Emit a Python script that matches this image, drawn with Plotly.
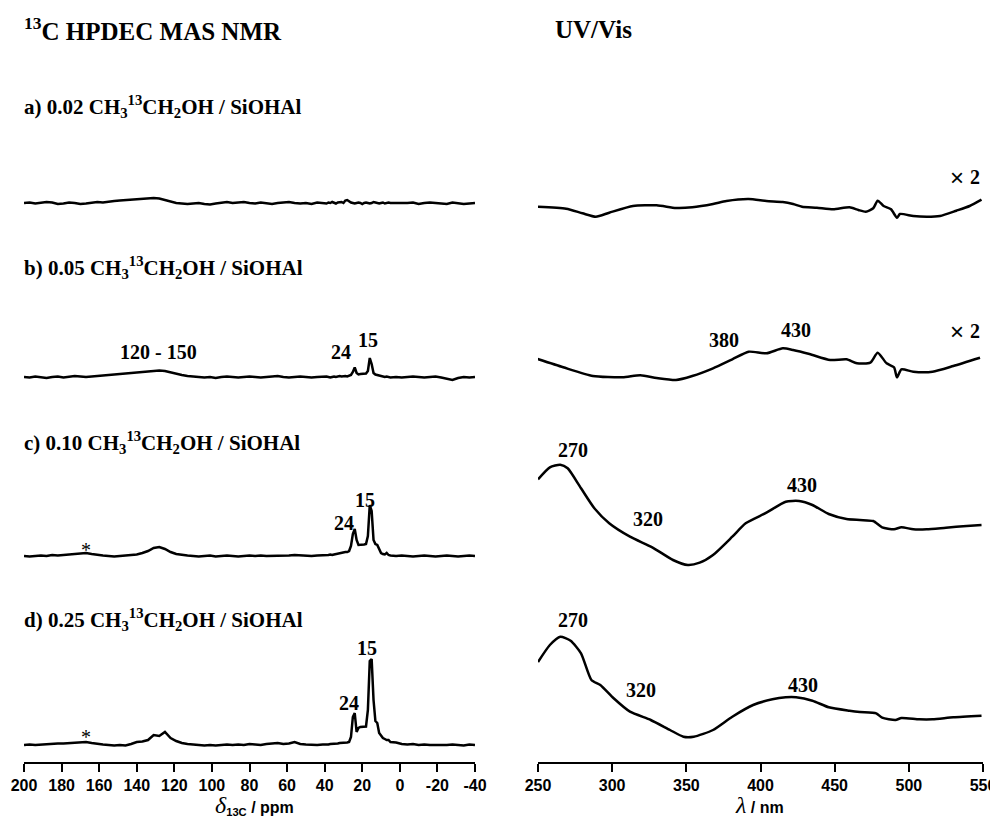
import plotly.graph_objects as go

# ---------------- DATA ----------------
# 13C HPDEC MAS NMR chemical shift grid (ppm)
ppm_hi = list(range(200, 40, -3))   # 200 ... 41
ppm_mid = list(range(40, 4, -1))    # 40 ... 5
ppm_lo = list(range(2, -41, -3))    # 2 ... -40
nmr_ppm = ppm_hi + ppm_mid + ppm_lo

# intensities (arbitrary units) for the four loadings
nmr_a = ([0, 0.5, -0.5, 0, 1, 0.5, -1, -0.5, 0.5, 0,
          -1, -0.5, 0, 1, 0.5, 1.5, 2, 2.5, 3, 3,
          3.5, 4, 4.5, 5, 4.5, 3, 1, 0, -0.5, -1,
          -0.5, 0, -1, -1.5, -0.5, 0, 1, 0, 0.5, 1,
          0, -0.5, 0.5, 0, -1, 0, 0.5, 1, 0, -0.5,
          0, -1, 0.5, 0]
         + [0, -0.5, 0.5, 0, 1, 0, -0.5, 0.5, 1, 1,
            0, 2.5, 3, 1.5, 0.5, 0, -0.5, 0, 0.5, 0,
            -1, 0, 0.5, 0, -0.5, 0, 1, 0.5, 0, -0.5,
            0, 0.5, -0.5, 0, 0.5, 0]
         + [0, -0.5, 0, 0.5, -1, 0, 0.5, 0, -0.5, -1, 0.5, 0, -1, -0.5, 0])

nmr_b = ([0, -0.5, 0.5, 0, -1, 0, 0.5, -0.5, 0, 1,
          0.5, 0, 0.5, 1, 1.5, 2, 2, 2.5, 3, 3.5,
          4, 4.5, 5, 6, 6.5, 6, 4.5, 3, 2, 1,
          0.5, 0, -0.5, 0, -1, 0, 0.5, 0, -0.5, 0,
          0.5, 0, -0.5, 0, 0.5, 1, 0, -0.5, 0, 0.5,
          0, -0.5, 0, 0.5]
         + [0, 0.5, 0, -0.5, 0, 0.5, 0, 0.5, 1, 0.5,
            1, 1, 0.5, 1, 2, 5, 9.5, 4, 2.5, 3,
            3, 3, 3.5, 6, 19, 13, 4, 2.5, 2, 1,
            1, 0.5, 0, 0.5, 0, -0.5]
         + [0, -0.5, 0, 0.5, 0, -0.5, 0, 0.5, -0.5, -2, -3, -1, 0, -0.5, 0])

nmr_c = ([0, -0.5, 0, 0.5, 0, 1, 0.5, 1, 1.5, 2,
          2.5, 3, 2, 1, 0.5, 0, -0.5, 0, 0.5, 1,
          1.5, 3, 5, 8, 9, 7, 4, 2, 1, 0.5,
          0, -0.5, 0, 0.5, -0.5, 0, 0.5, 0, -0.5, 0,
          0.5, 0, 0.5, 0, 0, 0.5, 0, 0.5, 1, 0.5,
          0, 0, 0.5, 0.5]
         + [0.5, 1, 1, 1.5, 1, 1.5, 2, 2, 2.5, 3,
            3.5, 4, 4, 5, 10, 22, 27, 16, 11, 11,
            11, 11.5, 12, 20, 51, 45, 16, 12, 11, 6,
            3, 2, 1.5, 3, 1, 0.5]
         + [0, 0.5, 0, -0.5, 0, 0.5, 0, -0.5, 0, 0.5, 0, -0.5, 0, 0.5, 0])

nmr_d = ([0, 0.5, 0, 0.5, 1, 1, 1.5, 1.5, 2, 2,
          2.5, 3, 2, 1, 0.5, 0, -0.5, 0, -0.5, 1,
          3, 3.5, 5, 10, 9, 13, 7, 4, 2, 1,
          0.5, 0, -0.5, 0, -0.5, 0, 0.5, 0, 0.5, 0,
          1, 0.5, 0, 1, 1.5, 2, 1, 1.5, 3, 1,
          0.5, 0, 0, 0.5]
         + [0.5, 0, 0.5, 1, 1, 1.5, 1, 1.5, 2, 2,
            2.5, 2, 2.5, 3, 8, 28, 32, 13, 17, 18,
            18, 18, 18.5, 35, 84, 86, 45, 24, 22, 12,
            9, 7, 6, 5, 5, 3]
         + [2.5, 1, 0.5, 1, 0, 0.5, 0, 0, -0.5, 0, 0.5, 0, -0.5, 0.5, 0])

# UV/Vis spectra (wavelength nm, arbitrary units)
uv_a_wl = [250, 269, 280, 289, 298, 314, 330, 343, 354, 368, 377, 392, 404, 415,
           422, 428, 438, 449, 460, 466, 471, 476, 479, 483, 488, 492, 494, 503,
           512, 521, 532, 541, 549]
uv_a = [-3.7, -5.7, -10.3, -13.7, -9.7, -3, -2.3, -5, -4.3, -1, 2, 4, 2, 1,
        -1, -3.7, -4.7, -6.3, -4.3, -7, -8.7, -5.3, 2.3, -3, -6.3, -14.7, -11, -13,
        -13.7, -13, -7.7, -3, 3.3]

uv_b_wl = [249, 267, 287, 307, 319, 330, 343, 354, 368, 381, 392, 404, 415, 422,
           433, 447, 458, 465, 474, 479, 485, 490, 492, 495, 503, 516, 530, 548]
uv_b = [18.3, 9.7, 1, -0.3, 1.7, -1, -3, 1, 8.7, 17.7, 25.3, 23.7, 28.7, 27,
        23, 17, 17.7, 13.7, 14.3, 24.3, 13.7, 9.7, -0.3, 7.7, 5.3, 5.3, 11, 19.3]

uv_c_wl = [250, 258, 265, 270, 279, 288, 298, 312, 327, 341, 351, 359, 368, 381,
           390, 404, 417, 426, 435, 446, 458, 467, 476, 482, 490, 495, 503, 512,
           525, 539, 549]
uv_c = [76.7, 88.7, 91.3, 87.7, 67.7, 47.7, 32.7, 19.3, 8.7, -4, -9, -6.7, 1, 19.3,
        32.7, 43.3, 54.3, 55, 51, 42, 37, 36, 35, 28.7, 26.7, 28.7, 26.7, 26.7,
        28.3, 30, 31]

uv_d_wl = [250, 258, 265, 272, 279, 286, 292, 301, 312, 326, 339, 348, 355, 368,
           381, 395, 408, 417, 424, 435, 446, 460, 467, 478, 482, 491, 495, 507,
           516, 530, 549]
uv_d = [83, 100, 108.3, 104.3, 91.7, 65, 60, 46.7, 33.3, 25, 15, 8.3, 8.3, 15,
        28.3, 40, 45.7, 47.7, 47.7, 44.3, 37.7, 34.3, 33, 31.7, 27.3, 25, 27, 25.7,
        25.7, 27.7, 29.3]

nmr_ticks = [200, 180, 160, 140, 120, 100, 80, 60, 40, 20, 0, -20, -40]
nmr_tick_text = ["200", "180", "160", "140", "120", "100", "80", "60", "40", "20", "0", "-20", "-40"]
uv_ticks = [250, 300, 350, 400, 450, 500, 550]

row_labels = [
    "a) 0.02 CH<sub>3</sub><sup>13</sup>CH<sub>2</sub>OH / SiOHAl",
    "b) 0.05 CH<sub>3</sub><sup>13</sup>CH<sub>2</sub>OH / SiOHAl",
    "c) 0.10 CH<sub>3</sub><sup>13</sup>CH<sub>2</sub>OH / SiOHAl",
    "d) 0.25 CH<sub>3</sub><sup>13</sup>CH<sub>2</sub>OH / SiOHAl",
]

# ---------------- LAYOUT ----------------
# the page body adds an 8 px margin, so the figure is 8 px smaller
OFF = 8
W, H = 998 - OFF, 817 - OFF
PLOT_L, PLOT_R, PLOT_T, PLOT_B = 24, 983, 8, 762   # plot area in screen pixels
ML = PLOT_L - OFF
MR = (W + OFF) - PLOT_R
MT = PLOT_T - OFF
MB = (H + OFF) - PLOT_B
PW = PLOT_R - PLOT_L
PH = PLOT_B - PLOT_T
SERIF = "Liberation Serif, Times New Roman, serif"
SANS = "Liberation Sans, Arial, sans-serif"


def px(x):
    return (x - PLOT_L) / PW


def py(y):
    return (PLOT_B - y) / PH


# rows: (top px, bottom px, baseline px) in screen pixels
rows = [(60, 230, 203), (240, 410, 377), (420, 590, 556), (600, 762, 745)]
nmr_sets = [nmr_a, nmr_b, nmr_c, nmr_d]
uv_sets = [(uv_a_wl, uv_a), (uv_b_wl, uv_b), (uv_c_wl, uv_c), (uv_d_wl, uv_d)]

fig = go.Figure()
layout = dict(
    width=W, height=H, showlegend=False,
    paper_bgcolor="white", plot_bgcolor="white",
    margin=dict(l=ML, r=MR, t=MT, b=MB, autoexpand=False),
)

nmr_dom = [px(24), px(475)]
uv_dom = [px(538), px(983)]
tick_font = dict(family=SANS, size=16, color="black", weight="bold")
greek = '<span style="font-family:\'Liberation Serif\';font-size:24px;font-weight:normal"><i>{}</i></span>'

for i, (top, bot, base) in enumerate(rows):
    ydom = [py(bot), py(top)]
    yr = [-(bot - base), base - top]
    last = (i == 3)
    for j, (dom, rng) in enumerate([(nmr_dom, [200, -40]), (uv_dom, [250, 550])]):
        k = 2 * i + j + 1
        xa = "xaxis" if k == 1 else f"xaxis{k}"
        ya = "yaxis" if k == 1 else f"yaxis{k}"
        xid = "x" if k == 1 else f"x{k}"
        yid = "y" if k == 1 else f"y{k}"
        xcfg = dict(domain=dom, range=rng, anchor=yid, showgrid=False, zeroline=False,
                    fixedrange=True)
        if last:
            xcfg.update(showline=True, linecolor="black", linewidth=2,
                        ticks="outside", ticklen=8, tickwidth=2, tickcolor="black",
                        tickfont=tick_font)
            if j == 0:
                xcfg.update(tickvals=nmr_ticks, ticktext=nmr_tick_text)
            else:
                xcfg.update(tickvals=uv_ticks)
        else:
            xcfg.update(showline=False, showticklabels=False, ticks="")
        layout[xa] = xcfg
        layout[ya] = dict(domain=ydom, range=yr, anchor=xid, visible=False, fixedrange=True)

        if j == 0:
            fig.add_trace(go.Scatter(x=nmr_ppm, y=nmr_sets[i], mode="lines",
                                     line=dict(color="black", width=2.5),
                                     xaxis=xid, yaxis=yid, hoverinfo="skip"))
        else:
            wl, val = uv_sets[i]
            fig.add_trace(go.Scatter(x=wl, y=val, mode="lines",
                                     line=dict(color="black", width=2.5, shape="spline",
                                               smoothing=0.6),
                                     xaxis=xid, yaxis=yid, hoverinfo="skip"))

fig.update_layout(**layout)

anns = []


def ann(text, x, y, size=20, family=SERIF, xanchor="center", bold=True):
    anns.append(dict(text=text, x=px(x), y=py(y), xref="paper", yref="paper",
                     xanchor=xanchor, yanchor="middle", showarrow=False,
                     font=dict(family=family, size=size, color="black",
                               weight="bold" if bold else "normal")))


# headers
ann("<sup>13</sup>C HPDEC MAS NMR", 22, 29, size=25, xanchor="left")
ann("UV/Vis", 553, 29, size=25, xanchor="left")

# axis titles
ann(greek.format("δ") + "<sub>13C</sub> / ppm", 254, 805, size=16, family=SANS)
ann(greek.format("λ") + " / nm", 759, 805, size=16, family=SANS)

# row labels
for lbl, yy in zip(row_labels, [107, 267, 443, 619]):
    ann(lbl, 22, yy, size=21, xanchor="left")

# NMR peak labels
ann("120 - 150", 158, 352, size=20)
ann("24", 341, 352, size=20)
ann("15", 368, 340, size=20)
ann("24", 344, 523, size=20)
ann("15", 365, 500, size=20)
ann("*", 86, 550, size=20, bold=False)
ann("24", 349, 703, size=20)
ann("15", 367, 648, size=20)
ann("*", 86, 737, size=20, bold=False)

# UV labels
for yy in (177, 331):
    ann("×", 957, yy, size=24, family=SANS, bold=False)
    ann("2", 975, yy, size=20)
ann("380", 724, 340, size=20)
ann("430", 796, 330, size=20)
ann("270", 573, 450, size=20)
ann("320", 648, 519, size=20)
ann("430", 802, 485, size=20)
ann("270", 573, 620, size=20)
ann("320", 641, 690, size=20)
ann("430", 803, 685, size=20)

fig.update_layout(annotations=anns)
fig.write_html("out.html")
